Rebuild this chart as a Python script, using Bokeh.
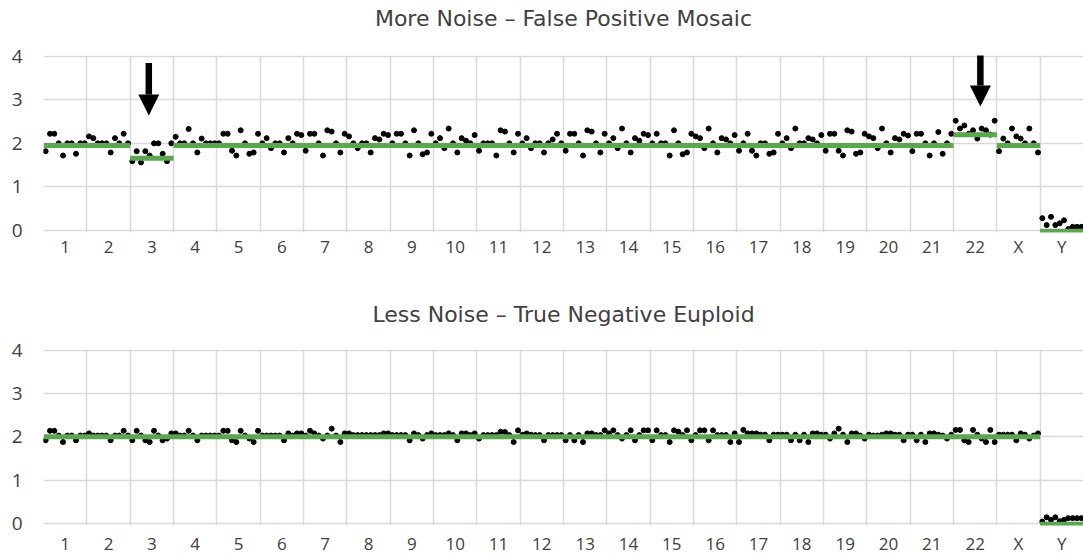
from bokeh.plotting import figure
from bokeh.layouts import column
from bokeh.models import FixedTicker, Arrow, NormalHead, Range1d, Title
from bokeh.embed import file_html
from bokeh.resources import INLINE

CHROMOSOMES = [str(i) for i in range(1, 23)] + ["X", "Y"]
BINS_PER_CHROMOSOME = 10
Y_TICKS = [0, 1, 2, 3, 4]

TOP_TITLE = "More Noise \u2013 False Positive Mosaic"
BOTTOM_TITLE = "Less Noise \u2013 True Negative Euploid"

# copy-number per bin, 10 bins per chromosome (1..22, X, Y)
TOP_COPY_NUMBER = [
    1.82, 2.22, 2.22, 2.00, 1.72, 2.00, 2.00, 1.76, 2.00, 2.00,  # 1
    2.16, 2.12, 2.00, 2.00, 2.00, 1.79, 2.12, 2.00, 2.22, 2.00,  # 2
    1.59, 1.82, 1.56, 1.82, 1.72, 2.00, 2.00, 1.76, 1.59, 2.00,  # 3
    2.15, 2.00, 2.00, 2.33, 2.00, 1.79, 2.11, 2.00, 2.00, 2.00,  # 4
    2.00, 2.22, 2.22, 1.83, 1.72, 2.30, 2.00, 1.76, 1.79, 2.22,  # 5
    2.00, 2.12, 1.89, 2.00, 2.00, 1.79, 2.12, 2.00, 2.22, 2.19,  # 6
    1.83, 2.22, 2.22, 2.00, 1.72, 2.30, 2.27, 2.00, 1.79, 2.22,  # 7
    2.16, 2.00, 1.89, 2.00, 2.00, 1.79, 2.12, 2.09, 2.22, 2.19,  # 8
    2.00, 2.22, 2.22, 2.00, 1.72, 2.30, 2.00, 1.75, 1.79, 2.22,  # 9
    2.00, 2.12, 1.89, 2.34, 2.00, 1.79, 2.12, 2.06, 2.00, 2.19,  # 10
    1.83, 2.00, 2.00, 2.00, 1.72, 2.30, 2.27, 2.00, 1.79, 2.22,  # 11
    2.00, 2.12, 1.89, 2.00, 2.00, 1.79, 2.00, 2.09, 2.22, 2.00,  # 12
    1.83, 2.22, 2.22, 2.00, 1.72, 2.30, 2.27, 2.00, 1.79, 2.22,  # 13
    2.00, 2.12, 1.89, 2.34, 2.00, 1.79, 2.12, 2.06, 2.22, 2.19,  # 14
    2.00, 2.22, 2.00, 2.00, 1.72, 2.30, 2.00, 1.75, 1.79, 2.22,  # 15
    2.16, 2.12, 1.89, 2.34, 2.00, 1.79, 2.12, 2.09, 2.00, 2.19,  # 16
    1.83, 2.00, 2.22, 1.83, 1.72, 2.00, 2.00, 1.76, 1.79, 2.22,  # 17
    2.00, 2.12, 1.89, 2.34, 2.00, 2.00, 2.12, 2.09, 2.00, 2.19,  # 18
    1.83, 2.22, 2.22, 1.83, 1.72, 2.30, 2.27, 1.76, 1.79, 2.22,  # 19
    2.16, 2.12, 1.89, 2.34, 2.00, 1.79, 2.12, 2.09, 2.22, 2.18,  # 20
    1.82, 2.22, 2.22, 2.00, 1.72, 2.00, 2.26, 1.76, 2.00, 2.22,  # 21
    2.52, 2.34, 2.41, 2.22, 2.30, 2.11, 2.34, 2.30, 2.20, 2.52,  # 22
    1.82, 2.11, 2.00, 2.34, 2.16, 2.11, 2.00, 2.34, 2.00, 1.79,  # X
    0.28, 0.12, 0.31, 0.12, 0.16, 0.23, 0.03, 0.08, 0.08, 0.08,  # Y
]

BOTTOM_COPY_NUMBER = [
    1.92, 2.14, 2.14, 2.03, 1.88, 2.03, 2.03, 1.92, 2.03, 2.03,  # 1
    2.08, 2.03, 2.03, 2.03, 2.03, 1.92, 2.03, 2.03, 2.14, 2.03,  # 2
    1.92, 2.14, 2.03, 1.92, 1.88, 2.14, 2.03, 1.92, 1.96, 2.08,  # 3
    2.08, 2.03, 2.03, 2.14, 2.03, 1.92, 2.03, 2.03, 2.03, 2.03,  # 4
    2.03, 2.14, 2.14, 1.92, 1.88, 2.14, 2.03, 1.96, 1.88, 2.14,  # 5
    2.03, 2.03, 2.03, 2.03, 2.03, 1.92, 2.08, 2.03, 2.08, 2.08,  # 6
    2.03, 2.14, 2.08, 2.03, 1.96, 2.03, 2.19, 2.03, 1.88, 2.08,  # 7
    2.08, 2.04, 2.04, 2.04, 2.04, 2.04, 2.04, 2.04, 2.08, 2.08,  # 8
    2.04, 2.04, 2.04, 2.04, 1.92, 2.08, 2.04, 1.96, 2.04, 2.08,  # 9
    2.04, 2.04, 2.04, 2.08, 2.04, 1.92, 2.08, 2.08, 2.04, 2.08,  # 10
    1.96, 2.04, 2.04, 2.04, 2.04, 2.12, 2.11, 2.04, 1.88, 2.15,  # 11
    2.05, 2.08, 2.05, 2.04, 2.04, 1.92, 2.04, 2.04, 2.04, 2.04,  # 12
    1.92, 2.04, 1.92, 2.04, 1.88, 2.08, 2.08, 2.04, 2.04, 2.15,  # 13
    2.08, 2.15, 2.04, 1.96, 2.04, 2.15, 1.92, 2.04, 2.15, 2.15,  # 14
    1.92, 2.15, 2.04, 2.04, 1.88, 2.15, 2.12, 2.04, 2.15, 1.92,  # 15
    2.04, 2.15, 2.15, 1.92, 2.15, 2.04, 2.04, 2.04, 1.88, 2.08,  # 16
    1.88, 2.16, 2.08, 2.08, 2.08, 2.05, 2.05, 1.92, 2.05, 2.05,  # 17
    2.05, 2.05, 1.92, 2.05, 1.92, 2.05, 1.88, 2.08, 2.08, 2.05,  # 18
    2.05, 1.96, 2.08, 2.19, 2.05, 1.88, 2.08, 2.08, 2.03, 1.96,  # 19
    2.05, 2.03, 2.03, 2.05, 2.08, 2.08, 2.05, 2.05, 1.92, 2.05,  # 20
    2.05, 1.92, 2.05, 1.88, 2.08, 2.08, 2.05, 2.03, 1.96, 2.05,  # 21
    2.16, 2.16, 1.92, 1.88, 2.16, 2.05, 1.96, 1.88, 2.16, 1.88,  # 22
    2.05, 2.05, 2.05, 2.05, 1.92, 2.08, 2.05, 1.96, 2.03, 2.08,  # X
    0.04, 0.14, 0.08, 0.14, 0.05, 0.08, 0.12, 0.12, 0.12, 0.12,  # Y
]

# segment (call) levels: first chromosome, last chromosome, level
TOP_SEG_FROM = ["1", "3", "4", "22", "X", "Y"]
TOP_SEG_TO = ["2", "3", "21", "22", "X", "Y"]
TOP_SEG_LEVEL = [1.95, 1.66, 1.95, 2.20, 1.95, -0.02]

BOTTOM_SEG_FROM = ["1", "Y"]
BOTTOM_SEG_TO = ["X", "Y"]
BOTTOM_SEG_LEVEL = [2.00, -0.02]

# arrows (annotation) on top chart: chromosome, position within it, tail level, tip level
ARROW_CHROM = ["3", "22"]
ARROW_FRAC = [0.43, 0.62]
ARROW_TAIL = [3.85, 4.08]
ARROW_TIP = [2.64, 2.85]

FONT = "Open Sans"
TITLE_FONT = "DejaVu Sans"
TEXT_COLOR = "#404040"
GREEN = "#59a84b"
GRID = "#d9d9d9"


def make_chart(title, values, seg_from, seg_to, seg_level, frame_height, border_top,
               border_bottom, xlab_standoff, title_gap, arrows=False):
    n = len(CHROMOSOMES)
    p = figure(frame_width=1040, frame_height=frame_height, output_backend="svg",
               toolbar_location=None, title=None,
               x_range=Range1d(0, n), y_range=Range1d(-0.05, 4.02),
               min_border_left=43, min_border_right=0,
               min_border_top=border_top, min_border_bottom=border_bottom)
    # empty spacer panel between the frame and the title
    p.add_layout(Title(text=" ", text_font_size="1px", standoff=title_gap), "above")
    p.add_layout(Title(text=title, align="center", text_font=TITLE_FONT,
                       text_font_size="22px", text_font_style="normal",
                       text_color=TEXT_COLOR, standoff=4), "above")
    p.outline_line_color = None
    p.background_fill_color = "white"
    p.border_fill_color = "white"

    idx = {c: i for i, c in enumerate(CHROMOSOMES)}
    xs = [i // BINS_PER_CHROMOSOME + (i % BINS_PER_CHROMOSOME + 0.5) / BINS_PER_CHROMOSOME
          for i in range(len(values))]
    p.scatter(x=xs, y=values, size=5, color="black")

    p.segment(x0=[idx[c] for c in seg_from], x1=[idx[c] + 1 for c in seg_to],
              y0=seg_level, y1=seg_level, line_color=GREEN, line_width=5)

    if arrows:
        for c, f, t0, t1 in zip(ARROW_CHROM, ARROW_FRAC, ARROW_TAIL, ARROW_TIP):
            p.add_layout(Arrow(end=NormalHead(size=21, fill_color="black", line_color="black", line_width=0),
                               x_start=idx[c] + f, y_start=t0, x_end=idx[c] + f, y_end=t1,
                               line_width=6.5, line_color="black"))

    p.xaxis.ticker = FixedTicker(ticks=[i + 0.5 for i in range(n)])
    p.xaxis.major_label_overrides = {i + 0.5: c for i, c in enumerate(CHROMOSOMES)}
    p.yaxis.ticker = FixedTicker(ticks=Y_TICKS)
    for ax in (p.xaxis[0], p.yaxis[0]):
        ax.axis_line_color = None
        ax.major_tick_line_color = None
        ax.minor_tick_line_color = None
        ax.major_tick_out = 0
        ax.major_tick_in = 0
        ax.minor_tick_out = 0
        ax.minor_tick_in = 0
        ax.major_label_text_font = FONT
        ax.major_label_text_color = TEXT_COLOR
    p.xaxis.major_label_text_font_size = "17px"
    p.xaxis.major_label_standoff = xlab_standoff
    p.yaxis.major_label_text_font_size = "19px"
    p.yaxis.major_label_standoff = 21

    p.xgrid.ticker = FixedTicker(ticks=list(range(n + 1)))
    p.ygrid.ticker = FixedTicker(ticks=Y_TICKS)
    for g in (p.xgrid[0], p.ygrid[0]):
        g.grid_line_color = GRID
        g.grid_line_width = 1.5
    return p


top = make_chart(TOP_TITLE, TOP_COPY_NUMBER, TOP_SEG_FROM, TOP_SEG_TO, TOP_SEG_LEVEL,
                 frame_height=177, border_top=55, border_bottom=64,
                 xlab_standoff=2, title_gap=20, arrows=True)
bottom = make_chart(BOTTOM_TITLE, BOTTOM_COPY_NUMBER, BOTTOM_SEG_FROM, BOTTOM_SEG_TO,
                    BOTTOM_SEG_LEVEL, frame_height=176, border_top=53, border_bottom=29,
                    xlab_standoff=6, title_gap=18)

layout = column(top, bottom, spacing=0)
open("out.html", "w").write(file_html(layout, INLINE))
